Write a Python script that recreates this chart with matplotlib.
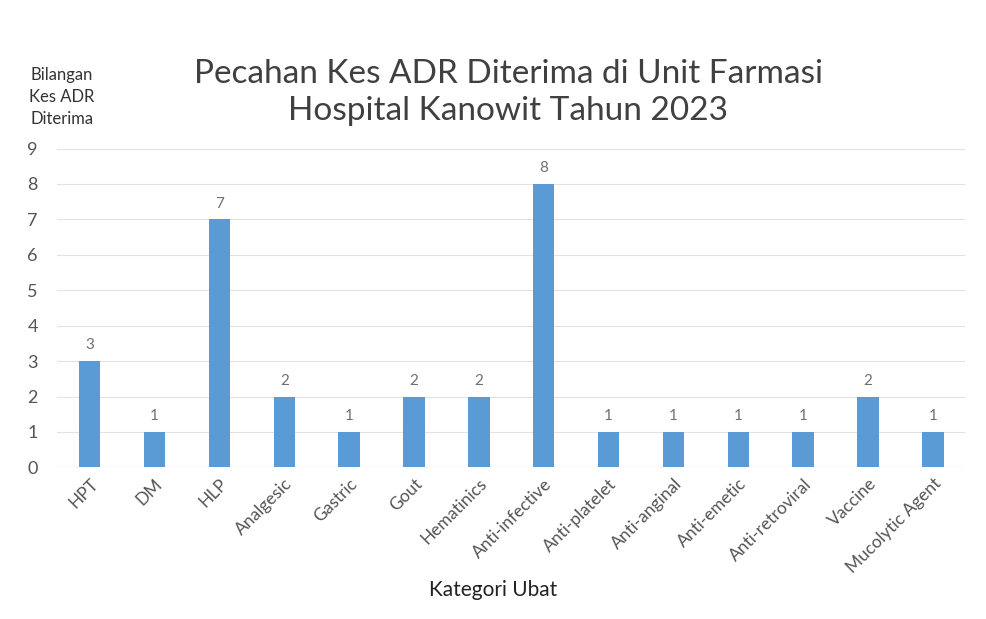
import matplotlib.pyplot as plt
import numpy as np

kategori = ['HPT', 'DM', 'HLP', 'Analgesic', 'Gastric', 'Gout', 'Hematinics',
            'Anti-infective', 'Anti-platelet', 'Anti-anginal', 'Anti-emetic',
            'Anti-retroviral', 'Vaccine', 'Mucolytic Agent']
bilangan = [3, 1, 7, 2, 1, 2, 2, 8, 1, 1, 1, 1, 2, 1]
y_ticks = list(range(0, 10))

plt.rcParams['font.family'] = ['Lato', 'DejaVu Sans']

fig = plt.figure(figsize=(9.87, 6.19), dpi=100)
ax = fig.add_axes([0.058, 0.245, 0.92, 0.515])

x = np.arange(len(kategori))
bars = ax.bar(x, bilangan, width=0.33, color='#5b9bd5', zorder=3)
for b, v in zip(bars, bilangan):
    ax.text(b.get_x() + b.get_width() / 2, v + 0.25, str(v), ha='center', va='bottom',
            fontsize=11, color='#707070')

ax.set_xlim(-0.5, len(kategori) - 0.5)
ax.set_ylim(0, 9)
ax.set_yticks(y_ticks)
ax.set_xticks(x)
ax.set_xticklabels(kategori, rotation=45, ha='right', rotation_mode='anchor',
                   fontsize=12.5, color='#555555')
ax.tick_params(axis='y', labelsize=13, colors='#555555', length=0, pad=14)
ax.tick_params(axis='x', length=0, pad=6)
ax.grid(axis='y', color='#e2e2e2', linewidth=0.8, zorder=0)
for s in ax.spines.values():
    s.set_visible(False)
ax.axhline(0, color='#d9d9d9', linewidth=0.8, zorder=1)

fig.text(0.515, 0.85, 'Pecahan Kes ADR Diterima di Unit Farmasi\nHospital Kanowit Tahun 2023',
         ha='center', va='center', fontsize=24, color='#404040', linespacing=1.3)
fig.text(0.063, 0.843, 'Bilangan\nKes ADR\nDiterima', ha='center', va='center',
         fontsize=12, color='#333333', linespacing=1.45)
fig.text(0.5, 0.047, 'Kategori Ubat', ha='center', va='center', fontsize=15, color='#222222')

plt.savefig('out.png', dpi=100)
